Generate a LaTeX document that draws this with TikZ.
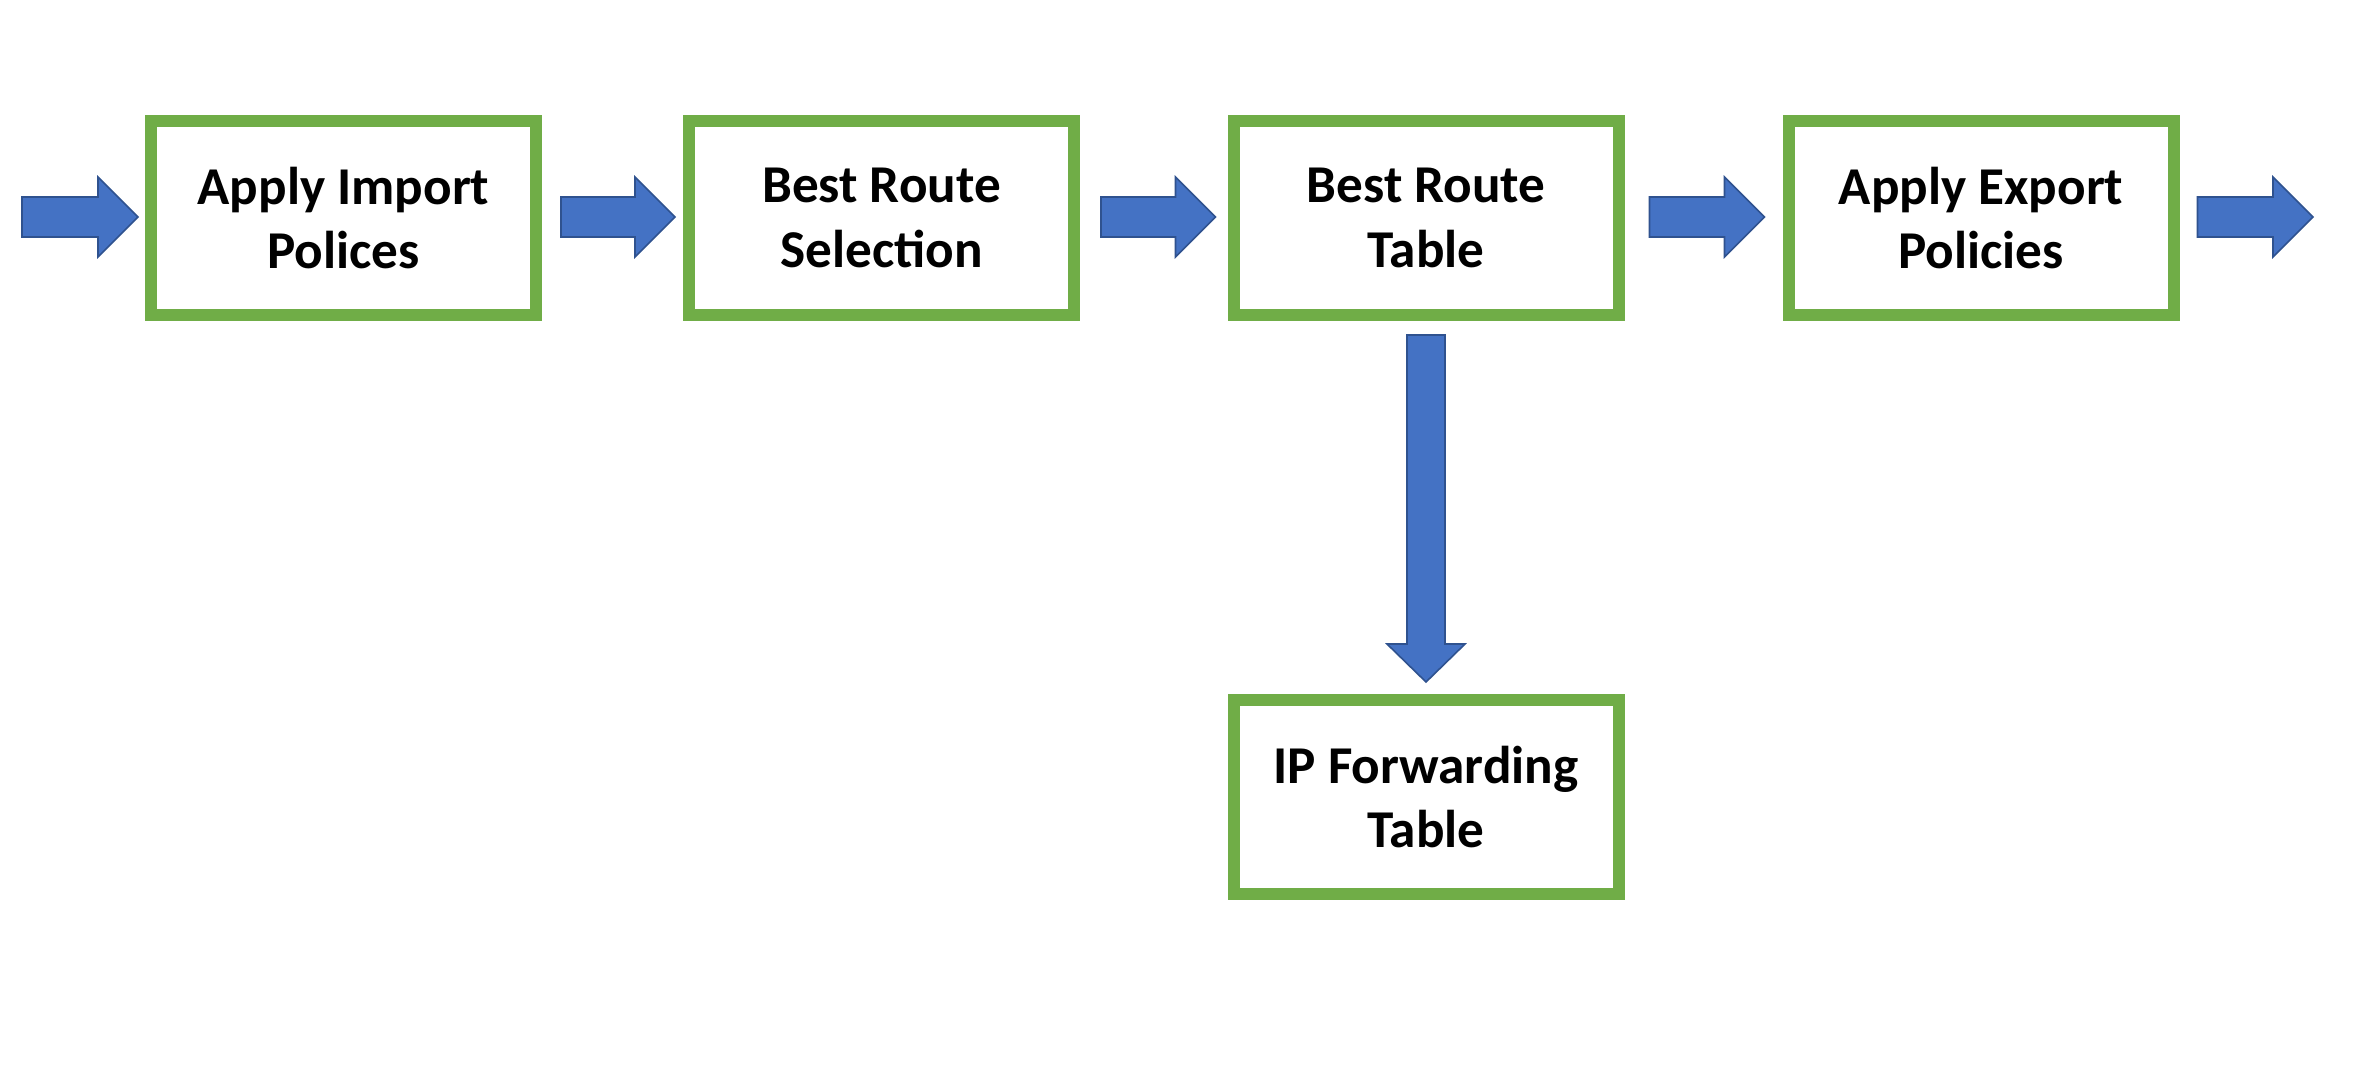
\documentclass[tikz,border=0pt]{standalone}
\usepackage{fontspec}
\setmainfont{Carlito}
\usetikzlibrary{calc}
\definecolor{boxgreen}{HTML}{70AD47}
\definecolor{arrowblue}{HTML}{4472C4}
\definecolor{arrowedge}{HTML}{2F528F}
\tikzset{
  stagebox/.style={draw=boxgreen, line width=6pt, fill=white, minimum width=192.5pt, minimum height=97pt, inner sep=0pt, align=center, font=\fontsize{26.6}{32.3}\selectfont\bfseries},
  blockarrow/.style={fill=arrowblue, draw=arrowedge, line width=0.8pt, line join=miter}
}
\newcommand\hblockarrow[2]{%
  \draw[blockarrow] let \p1=(#1), \p2=(#2) in
    (\x1,\y1+10pt) -- (\x2-20pt,\y1+10pt) -- (\x2-20pt,\y1+20pt) -- (\x2,\y1)
    -- (\x2-20pt,\y1-20pt) -- (\x2-20pt,\y1-10pt) -- (\x1,\y1-10pt) -- cycle;}
\newcommand\vblockarrow[2]{%
  \draw[blockarrow] let \p1=(#1), \p2=(#2) in
    (\x1-9.5pt,\y1) -- (\x1-9.5pt,\y2+19pt) -- (\x1-19.5pt,\y2+19pt) -- (\x1,\y2)
    -- (\x1+19.5pt,\y2+19pt) -- (\x1+9.5pt,\y2+19pt) -- (\x1+9.5pt,\y1) -- cycle;}
\begin{document}
\begin{tikzpicture}[x=0.5pt,y=-0.5pt]
\useasboundingbox[fill=white] (0,0) rectangle (2353,1069);
\node[stagebox] (b1) at (343.5,218) {Apply Import\\Polices};
\node[stagebox] (b2) at (881.5,218) {Best Route\\Selection};
\node[stagebox] (b3) at (1426,218) {Best Route\\Table};
\node[stagebox] (b4) at (1981,218) {Apply Export\\Policies};
\node[stagebox] (b5) at (1426,797) {IP Forwarding\\Table};
\coordinate (in) at (22,217);
\coordinate (out) at (2313,217);
\coordinate (a1t) at ($(b1.west)+(-7,-1)$);
\coordinate (a2s) at ($(b1.east)+(19,-1)$);
\coordinate (a2t) at ($(b2.west)+(-8,-1)$);
\coordinate (a3s) at ($(b2.east)+(21,-1)$);
\coordinate (a3t) at ($(b3.west)+(-12,-1)$);
\coordinate (a4s) at ($(b3.east)+(25,-1)$);
\coordinate (a4t) at ($(b4.west)+(-18,-1)$);
\coordinate (a5s) at ($(b4.east)+(18,-1)$);
\coordinate (d1s) at ($(b3.south)+(0,14)$);
\coordinate (d1t) at ($(b5.north)+(0,-12)$);
\hblockarrow{in}{a1t}
\hblockarrow{a2s}{a2t}
\hblockarrow{a3s}{a3t}
\hblockarrow{a4s}{a4t}
\hblockarrow{a5s}{out}
\vblockarrow{d1s}{d1t}
\end{tikzpicture}
\end{document}
